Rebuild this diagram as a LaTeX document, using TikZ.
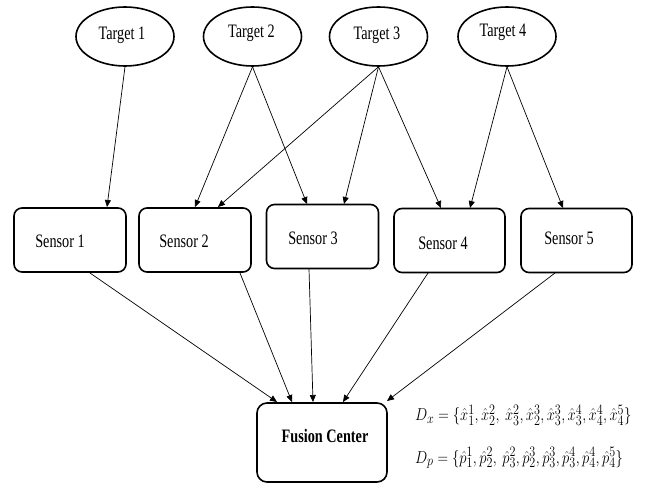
\documentclass[tikz,border=0pt]{standalone}
\usepackage{fontspec}
\setmainfont{Liberation Serif}[FakeStretch=0.75]
\usepackage{graphicx}
\usetikzlibrary{arrows.meta,shapes.geometric}
\begin{document}
\begin{tikzpicture}[x=1pt,y=-1pt,
  target/.style={draw,line width=1.6pt,ellipse,minimum width=98pt,minimum height=59pt,inner sep=0pt},
  sensor/.style={draw,line width=1.6pt,rounded corners=8pt,minimum width=112pt,minimum height=64pt,inner sep=0pt},
  lbl/.style={font=\fontsize{19}{23}\selectfont,inner sep=0pt},
  conn/.style={line width=0.7pt,-{Triangle[width=6pt,length=7pt]}}]
\useasboundingbox (0,0) rectangle (645,484);
% targets
\node[target] (t1) at (125,36.5) {};
\node[target] (t2) at (252.5,36.5) {};
\node[target] (t3) at (378.5,36.5) {};
\node[target] (t4) at (507,36.5) {};
\node[lbl] (tl1) at (122,35) {Target 1};
\node[lbl] (tl2) at (251.5,33) {Target 2};
\node[lbl] (tl3) at (377,35) {Target 3};
\node[lbl] (tl4) at (503,32) {Target 4};
% sensors
\node[sensor] (s1) at (70,240) {};
\node[sensor] (s2) at (195,240) {};
\node[sensor] (s3) at (322.5,236.5) {};
\node[sensor,minimum width=111pt] (s4) at (449.5,240.5) {};
\node[sensor,minimum width=111pt] (s5) at (576.5,240.5) {};
\node[lbl] (l1) at (60,241) {Sensor 1};
\node[lbl] (l2) at (184,241) {Sensor 2};
\node[lbl] (l3) at (313,238) {Sensor 3};
\node[lbl] (l4) at (443,243) {Sensor 4};
\node[lbl] (l5) at (569,238) {Sensor 5};
% fusion center
\node[sensor,minimum width=130pt,minimum height=79pt,rounded corners=10pt] (fc) at (322,442.5) {};
\node[lbl,font=\fontsize{19}{23}\selectfont\bfseries] (fl) at (325,436.5) {Fusion Center};
% arrow tips on sensor tops
\coordinate (s1t) at (107,207);
\coordinate (s2ta) at (195,207);
\coordinate (s2tb) at (218,207);
\coordinate (s3ta) at (307,204);
\coordinate (s3tb) at (344,204);
\coordinate (s4ta) at (441,208);
\coordinate (s4tb) at (470,208);
\coordinate (s5t) at (563,208);
\draw[conn] (t1.south) -- (s1t);
\draw[conn] (t2.south) -- (s2ta);
\draw[conn] (t2.south) -- (s3ta);
\draw[conn] (t3.south) -- (s2tb);
\draw[conn] (t3.south) -- (s3tb);
\draw[conn] (t3.south) -- (s4ta);
\draw[conn] (t4.south) -- (s4tb);
\draw[conn] (t4.south) -- (s5t);
% sensors to fusion
\coordinate (s1b) at (90,273);
\coordinate (s2b) at (240,273);
\coordinate (s3b) at (309,269);
\coordinate (s4b) at (428,273);
\coordinate (s5b) at (555,273);
\coordinate (f1) at (277,402);
\coordinate (f2) at (292,402);
\coordinate (f3) at (313,402);
\coordinate (f4) at (343,402);
\coordinate (f5) at (387,401);
\draw[conn] (s1b) -- (f1);
\draw[conn] (s2b) -- (f2);
\draw[conn] (s3b) -- (f3);
\draw[conn] (s4b) -- (f4);
\draw[conn] (s5b) -- (f5);
% equations
\node[anchor=west,inner sep=0pt,font=\fontsize{19}{23}\selectfont] (dx) at (415,415) {\scalebox{0.845}[1]{$D_x=\{\hat{x}_1^1,\hat{x}_2^2,\ \hat{x}_3^2,\hat{x}_2^3,\hat{x}_3^3,\hat{x}_3^4,\hat{x}_4^4,\hat{x}_4^5\}$}};
\node[anchor=west,inner sep=0pt,font=\fontsize{19}{23}\selectfont] (dp) at (415,458) {\scalebox{0.845}[1]{$D_p=\{\hat{p}_1^1,\hat{p}_2^2,\ \hat{p}_3^2,\hat{p}_2^3,\hat{p}_3^3,\hat{p}_3^4,\hat{p}_4^4,\hat{p}_4^5\}$}};
\end{tikzpicture}
\end{document}
